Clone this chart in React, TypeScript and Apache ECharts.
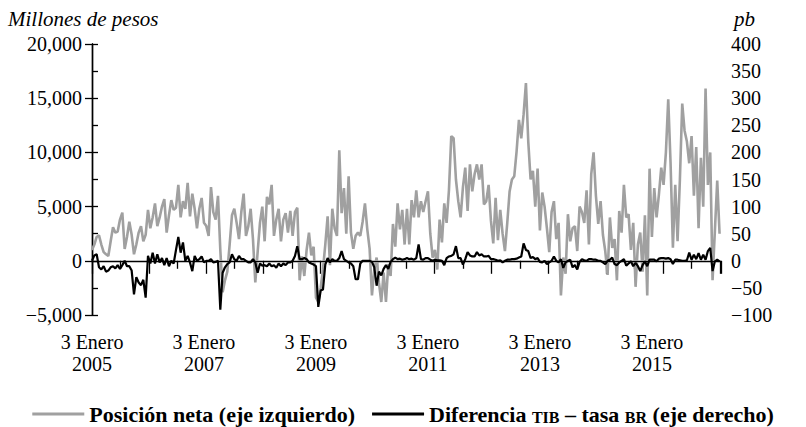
import React, { useEffect, useRef } from 'react';
import * as echarts from 'echarts';

const FONT = '"Liberation Serif", "Times New Roman", serif';

// Year labels on the time axis (value = years since 3 Jan 2005)
const labelYears = [2005, 2007, 2009, 2011, 2013, 2015];
const labelPrefix = '3 Enero';

// Posición neta (millones de pesos), half-monthly observations per year
const pos2005 = [1000, 1500, 2200, 2350, 1500, 800, 600, 450, 1800, 3100, 2600, 2700, 3800, 4450, 1100, 2200, 3600, 2400, 600, 1500, 2600, 3200, 1800, 2400];
const pos2006 = [4700, 3000, 4000, 5300, 3200, 4000, 5000, 5700, 2600, 4200, 5600, 4700, 4900, 7000, 4000, 5500, 4800, 7200, 4100, 6200, 4800, 3000, 4800, 5800];
const pos2007 = [3500, 3200, 2300, 6800, 4500, 3800, 6000, 1000, -2900, -1800, -1000, 1500, 4200, 4800, 3500, 2000, 4500, 6200, 2300, 3200, 4800, 2000, -2000, 800];
const pos2008 = [3500, 5000, 1800, 5900, 5200, 7000, 2300, 3800, 4800, 1800, 3800, 4400, 2600, 4600, 2300, 4500, 4900, -1800, 400, -1400, 1000, 2600, 500, 1300];
const pos2009 = [-3400, -3800, -2500, -800, 1500, 4100, -400, 4800, 3000, 2300, 10200, 4400, 6700, 2500, 7800, 2600, 1100, 2300, 2600, 2300, 3600, 5300, 2900, 1100];
const pos2010 = [-3200, -800, 300, -2000, -3800, -1100, -3800, -300, -1400, 3400, 1300, 5300, 2900, 4700, 1500, 4800, 1500, 5600, 4000, 6500, 4000, 5500, 4500, 5500];
const pos2011 = [6400, 2500, 300, 1000, -800, 3800, 1700, 5300, 3500, 6500, 11500, 11300, 7500, 5500, 4000, 6800, 8600, 4600, 8900, 6400, 8000, 8900, 7500, 8900];
const pos2012 = [5200, 5500, 7000, 3700, 1600, 5800, 1900, 4700, 2500, 900, 3500, 6400, 7500, 7800, 10100, 13000, 11300, 13500, 16400, 11000, 7500, 8300, 5000, 8500];
const pos2013 = [2800, 6300, 5000, 3000, 800, 4500, 5500, 2000, 3500, -3200, 300, -1200, 4300, 1800, 3000, 3200, 900, 5000, 4500, 3500, 6500, 1500, 8000, 10000];
const pos2014 = [6000, 3400, 5500, 2400, 900, -1300, 4000, 1200, 2000, -1800, 4600, 2600, 7000, 4000, 4300, 1000, 3500, -2400, 1500, 2600, -1000, 4200, -3200, 8500];
const pos2015 = [2200, 6700, 4000, 6100, 8600, 7000, 10000, 14900, 9000, 1200, 7000, 1800, 7500, 14500, 12000, 11000, 9000, 11500, 6000, 10500, 3000, 9500, 5000, 15900];
const pos2016 = [7000, 10000, -1800, 2800, 7400, 2500];

// Diferencia TIB – tasa BR (pb)
const dif2005 = [0, 10, 12, -12, -16, -10, -20, -18, -12, -10, -14, -8, -15, -8, 0, -10, -10, -18, -62, -30, -40, -45, -35, -68];
const dif2006 = [9, -5, 15, -5, 12, -3, 5, -8, 5, -10, 0, -5, 20, 44, 15, 34, 0, 9, -3, -19, 9, 0, 3, 8];
const dif2007 = [-3, 0, 0, 3, -3, -2, 0, -90, -22, -12, -6, -3, 12, 3, 0, 9, 3, 3, 0, -3, -3, 3, -3, -22];
const dif2008 = [-5, -9, -8, -10, -5, -10, -8, -13, -5, -10, -5, -8, -3, -3, 0, 9, 27, 3, 3, 5, 3, -3, -5, -7];
const dif2009 = [-10, -85, -55, -53, -7, 5, -3, 3, 0, 0, 5, 18, 3, 0, -3, -5, -10, -34, -34, -5, 0, 0, 0, 0];
const dif2010 = [-2, -12, -46, -20, -27, -15, -8, -15, -2, 3, 6, 3, 4, 2, 3, 5, 3, 4, 2, 5, 30, 3, 2, 5];
const dif2011 = [5, 2, 0, 2, 1, 1, 0, -8, 5, 8, 9, 12, 27, 5, 5, -7, 3, 16, 10, 8, 8, 16, 10, 12];
const dif2012 = [8, 8, 9, 3, 3, 2, 0, 1, -3, 0, 2, 2, 3, 3, 4, 6, 8, 32, 20, 18, 5, 7, 3, 5];
const dif2013 = [-2, -3, 0, -6, -3, 0, 8, 0, -3, 3, -13, -3, 0, 2, -12, -8, -16, -2, 3, 1, 0, 3, 3, 2];
const dif2014 = [2, 0, 0, -3, -6, 0, 2, 6, -6, -8, -3, 0, 3, -9, -5, -1, -10, -4, -10, -19, -8, -1, -10, 2];
const dif2015 = [2, 2, -1, 4, 5, 5, 4, 5, 3, -6, 2, 2, 1, 0, 0, 1, 15, 2, 11, 3, 14, 2, 11, 2];
const dif2016 = [18, 24, -19, -1, 2, -1];

const posicionNeta = [pos2005, pos2006, pos2007, pos2008, pos2009, pos2010, pos2011, pos2012, pos2013, pos2014, pos2015, pos2016];
const diferencia = [dif2005, dif2006, dif2007, dif2008, dif2009, dif2010, dif2011, dif2012, dif2013, dif2014, dif2015, dif2016];
const PER_YEAR = 24;

const toPoints = (blocks: number[][]) =>
  blocks.flatMap((vals, yi) => vals.map((v, k) => [yi + k / PER_YEAR, v]));

const NAME_POS = 'Posición neta (eje izquierdo)';
const NAME_DIF = 'Diferencia TIB – tasa BR (eje derecho)';
const SMALL_CAPS = ['TIB', 'BR'];

const fmtThousands = (v: number) => {
  const s = Math.abs(v).toString().replace(/\B(?=(\d{3})+(?!\d))/g, ',');
  return v < 0 ? '\u2212' + s : s;
};

const legendFormatter = (name: string) =>
  name
    .split(/(TIB|BR)/)
    .filter((p) => p.length > 0)
    .map((p) => (SMALL_CAPS.includes(p) ? `{sc|${p}}` : `{b|${p}}`))
    .join('');

export default function App() {
  const ref = useRef<HTMLDivElement>(null);
  useEffect(() => {
    document.body.style.margin = '0';
    const chart = echarts.init(ref.current!, null, { renderer: 'svg' });
    const option: any = {
      animation: false,
      backgroundColor: '#fff',
      textStyle: { fontFamily: FONT },
      grid: { left: 92, right: 85, top: 44, bottom: 112, containLabel: false },
      graphic: [
        { type: 'text', left: 8, top: 8, style: { text: 'Millones de pesos', font: `italic 21px ${FONT}`, fill: '#000' } },
        { type: 'text', left: 734, top: 8, style: { text: 'pb', font: `italic 21px ${FONT}`, fill: '#000' } },
      ],
      legend: {
        left: 'center',
        top: 398,
        itemGap: 17,
        itemWidth: 52,
        itemHeight: 3,
        icon: 'rect',
        data: [NAME_POS, NAME_DIF],
        formatter: legendFormatter,
        textStyle: {
          fontFamily: FONT, fontSize: 22, fontWeight: 'bold', color: '#000',
          rich: {
            b: { fontFamily: FONT, fontSize: 22, fontWeight: 'bold', color: '#000', verticalAlign: 'bottom' },
            sc: { fontFamily: FONT, fontSize: 16, fontWeight: 'bold', color: '#000', verticalAlign: 'bottom' },
          },
        },
      },
      xAxis: [
        {
          type: 'value', min: 0, max: 11.234, interval: 2, position: 'bottom',
          axisLine: { show: false }, axisTick: { show: false }, splitLine: { show: false },
          axisLabel: {
            margin: 16, fontFamily: FONT, fontSize: 20, color: '#000', lineHeight: 22,
            showMaxLabel: false,
            formatter: (v: number) => {
              const y = 2005 + Math.round(v);
              return Math.abs(v - Math.round(v)) < 1e-6 && labelYears.includes(y) ? `${labelPrefix}\n${y}` : '';
            },
          },
        },
        {
          type: 'value', min: 0, max: 22.035, interval: 2, position: 'bottom',
          axisLine: { show: true, lineStyle: { color: '#000', width: 1.4 } },
          axisTick: { show: true, length: 13, lineStyle: { color: '#000', width: 1.3 } },
          minorTick: { show: true, splitNumber: 2, length: 8, lineStyle: { color: '#000', width: 1.3 } },
          axisLabel: { show: false }, splitLine: { show: false },
        },
      ],
      yAxis: [
        {
          type: 'value', min: -5000, max: 20000, interval: 5000, position: 'left',
          axisLine: { show: true, lineStyle: { color: '#000', width: 1.4 } },
          axisTick: { show: true, length: 7, lineStyle: { color: '#000', width: 1.3 } },
          splitLine: { show: false },
          axisLabel: { margin: 10, fontFamily: FONT, fontSize: 20, color: '#000', formatter: fmtThousands },
        },
        {
          type: 'value', min: -100, max: 400, interval: 50, position: 'right',
          axisLine: { show: true, lineStyle: { color: '#000', width: 1.4 } },
          axisTick: { show: true, length: 6, lineStyle: { color: '#000', width: 1.3 } },
          splitLine: { show: false },
          axisLabel: {
            margin: 10, fontFamily: FONT, fontSize: 20, color: '#000',
            formatter: (v: number) => (v < 0 ? '\u2212' + Math.abs(v) : String(v)),
          },
        },
      ],
      series: [
        {
          name: NAME_POS, type: 'line', xAxisIndex: 0, yAxisIndex: 0,
          data: toPoints(posicionNeta), symbol: 'none', showSymbol: false,
          lineStyle: { color: '#a0a0a0', width: 2.6 }, itemStyle: { color: '#a0a0a0' }, z: 2,
          markLine: {
            silent: true, symbol: ['none', 'none'], label: { show: false },
            lineStyle: { color: '#000', width: 1, type: 'solid' },
            data: [{ yAxis: 0 }],
          },
        },
        {
          name: NAME_DIF, type: 'line', xAxisIndex: 0, yAxisIndex: 1,
          data: toPoints(diferencia), symbol: 'none', showSymbol: false,
          lineStyle: { color: '#000', width: 2.2 }, itemStyle: { color: '#000' }, z: 3,
        },
      ],
    };
    chart.setOption(option);
    return () => chart.dispose();
  }, []);
  return <div ref={ref} style={{ width: 806, height: 427 }} />;
}
